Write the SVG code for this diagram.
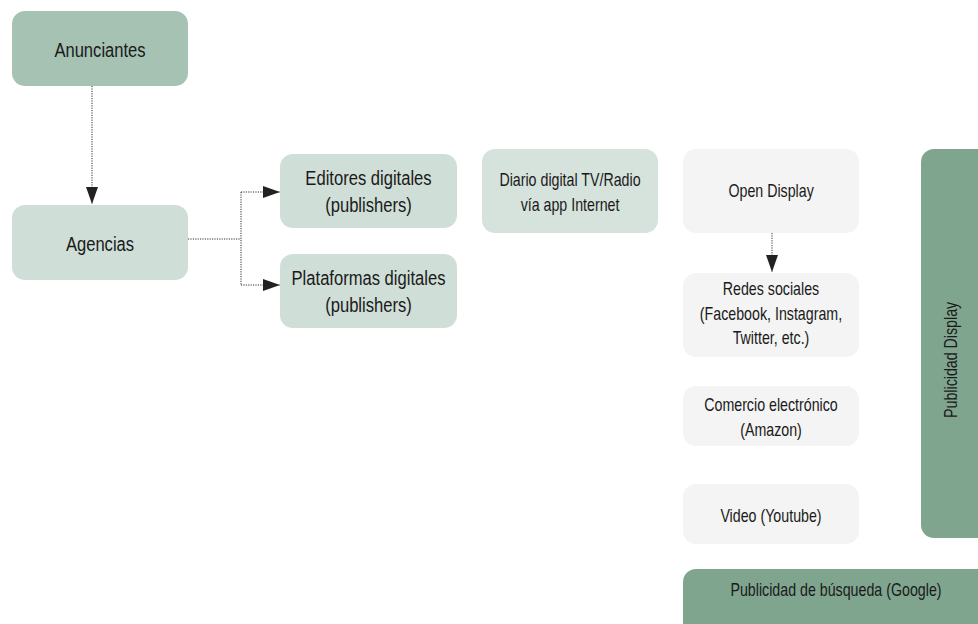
<svg xmlns="http://www.w3.org/2000/svg" width="978" height="624" viewBox="0 0 978 624">
<defs>
<style>
text{font-family:"Liberation Sans",Arial,sans-serif;fill:#1a1a1a;text-anchor:middle;transform-box:fill-box;transform-origin:center;transform:scaleX(0.79)}
.t16{font-size:21px}
.t14{font-size:18px}
.c{fill:none;stroke:#333;stroke-width:1;stroke-dasharray:1.2 1.2}
</style>
<marker id="ah" viewBox="0 0 10 10" refX="10" refY="5" markerWidth="17" markerHeight="12" markerUnits="userSpaceOnUse" orient="auto" preserveAspectRatio="none"><path d="M0,0 L10,5 L0,10 Z" fill="#222"/></marker>
</defs>
<g id="anunciantes"><rect x="12" y="11" width="176" height="75" rx="13" fill="#a6c2b3"/><text class="t16" x="100" y="57">Anunciantes</text></g>
<g id="agencias"><rect x="12" y="205" width="176" height="75" rx="13" fill="#cfded6"/><text class="t16" x="100" y="251">Agencias</text></g>
<g id="editores"><rect x="280" y="154" width="177" height="74" rx="13" fill="#cfded6"/><text class="t16" x="368.5" y="185">Editores digitales</text><text class="t16" x="368.5" y="212">(publishers)</text></g>
<g id="plataformas"><rect x="280" y="254" width="177" height="74" rx="13" fill="#cfded6"/><text class="t16" x="368.5" y="285">Plataformas digitales</text><text class="t16" x="368.5" y="312">(publishers)</text></g>
<g id="diario"><rect x="482" y="149" width="176" height="84" rx="13" fill="#d6e2dc"/><text class="t14" x="570" y="186">Diario digital TV/Radio</text><text class="t14" x="570" y="211">vía app Internet</text></g>
<g id="open-display"><rect x="683" y="149" width="176" height="84" rx="13" fill="#f3f4f3"/><text class="t14" x="771" y="197">Open Display</text></g>
<g id="redes"><rect x="683" y="273" width="176" height="84" rx="13" fill="#f3f4f3"/><text class="t14" x="771" y="295">Redes sociales</text><text class="t14" x="771" y="320">(Facebook, Instagram,</text><text class="t14" x="771" y="344">Twitter, etc.)</text></g>
<g id="comercio"><rect x="683" y="386" width="176" height="60" rx="13" fill="#f3f4f3"/><text class="t14" x="771" y="411">Comercio electrónico</text><text class="t14" x="771" y="436">(Amazon)</text></g>
<g id="video"><rect x="683" y="484" width="176" height="60" rx="13" fill="#f3f4f3"/><text class="t14" x="771" y="522">Video (Youtube)</text></g>
<g id="publicidad-display"><rect x="921" y="149" width="70" height="389" rx="13" fill="#7fa58f"/><g transform="translate(957,360) rotate(-90)"><text class="t14" x="0" y="0">Publicidad Display</text></g></g>
<g id="publicidad-busqueda"><rect x="683" y="569" width="310" height="70" rx="13" fill="#7fa58f"/><text class="t14" x="836" y="596">Publicidad de búsqueda (Google)</text></g>
<g id="connectors">
<path class="c" d="M92,86 V204" marker-end="url(#ah)"/>
<path class="c" d="M188,239 H241"/>
<path class="c" d="M241,192 V285"/>
<path class="c" d="M241,192 H280" marker-end="url(#ah)"/>
<path class="c" d="M241,285 H280" marker-end="url(#ah)"/>
<path class="c" d="M772,233 V272" marker-end="url(#ah)"/>
</g>
</svg>
